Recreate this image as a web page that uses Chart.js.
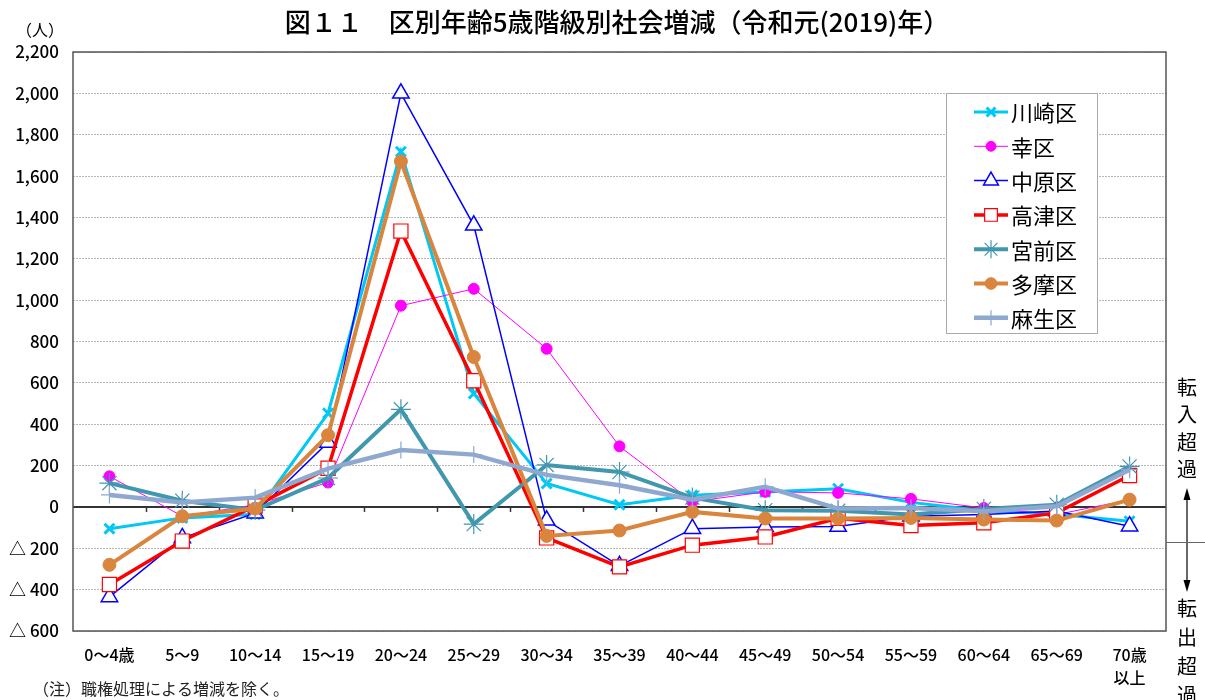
<!DOCTYPE html>
<html>
<head>
<meta charset="utf-8">
<script src="https://cdn.jsdelivr.net/npm/chart.js@4"></script>
<style>
  body { margin: 0; background: #fff; }
</style>
</head>
<body>
<canvas id="myChart" width="1205" height="700"></canvas>
<script>
var ageLabels = ['0～4歳', '5～9', '10～14', '15～19', '20～24', '25～29', '30～34', '35～39',
  '40～44', '45～49', '50～54', '55～59', '60～64', '65～69', ['70歳', '以上']];

var kawasaki = [-105, -53, -35, 453, 1718, 548, 113, 11, 56, 72, 88, 22, -18, -35, -69];
var saiwai   = [148, -45, 10, 118, 973, 1055, 765, 293, 25, 73, 68, 39, -5, -37, 35];
var nakahara = [-435, -150, -30, 312, 2000, 1362, -65, -285, -105, -97, -95, -45, -37, -20, -93];
var takatsu  = [-375, -165, 5, 187, 1334, 610, -150, -290, -185, -145, -55, -90, -77, -29, 152];
var miyamae  = [115, 30, -15, 140, 472, -83, 203, 169, 45, -16, -19, -37, -10, 11, 196];
var tama     = [-280, -45, -8, 347, 1671, 725, -140, -114, -24, -56, -56, -53, -61, -66, 35];
var asao     = [58, 22, 45, 185, 275, 253, 155, 105, 35, 97, -8, -5, -21, 3, 180];

var yMin = -600, yMax = 2200, yStep = 200;

var FONT = "'Noto Sans CJK JP', 'Noto Sans', sans-serif";

function series(label, data, color, width, style, radius, pbw, fill) {
  return {
    label: label,
    data: data,
    borderColor: color,
    borderWidth: width,
    pointStyle: style,
    pointRadius: radius,
    pointHoverRadius: radius,
    pointBorderColor: color,
    pointBorderWidth: pbw,
    pointBackgroundColor: fill,
    tension: 0,
    fill: false
  };
}

var datasets = [
  series('川崎区', kawasaki, '#00C8F5', 3, 'crossRot', 7, 3, '#00C8F5'),
  series('幸区', saiwai, '#FF00FF', 1, 'circle', 5.5, 1, '#FF00FF'),
  series('中原区', nakahara, '#0000FF', 1.5, 'triangle', 9.5, 1.5, '#FFFFFF'),
  series('高津区', takatsu, '#FF0000', 3.5, 'rect', 10, 1.2, '#FFFFFF'),
  series('宮前区', miyamae, '#4197AE', 4, 'star', 10, 1.2, '#4197AE'),
  series('多摩区', tama, '#D9853E', 4, 'circle', 6.5, 1, '#D9853E'),
  series('麻生区', asao, '#8FA8CF', 4.5, 'cross', 8.5, 1.2, '#8FA8CF')
];
// Excel draws later series on top
datasets.forEach(function (d, i) { d.order = datasets.length - 1 - i; });

var deco = {
  id: 'deco',
  beforeDatasetsDraw: function (chart) {
    var ctx = chart.ctx, a = chart.chartArea;
    var x = chart.scales.x, y = chart.scales.y;
    var y0 = y.getPixelForValue(0);
    ctx.save();
    ctx.strokeStyle = '#333';
    ctx.lineWidth = 2;
    ctx.beginPath();
    ctx.moveTo(a.left, y0); ctx.lineTo(a.right, y0);
    ctx.stroke();
    ctx.lineWidth = 1.5;
    for (var i = 1; i < ageLabels.length; i++) {
      var px = Math.round(x.getPixelForValue(i - 0.5)) + 0.5;
      ctx.beginPath();
      ctx.moveTo(px, y0); ctx.lineTo(px, y0 + 5);
      ctx.stroke();
    }
    ctx.restore();
  },
  afterDraw: function (chart) {
    var ctx = chart.ctx, a = chart.chartArea;
    ctx.save();
    // frame
    ctx.strokeStyle = '#555';
    ctx.lineWidth = 1.5;
    ctx.strokeRect(a.left, a.top, a.right - a.left, a.bottom - a.top);

    // title
    ctx.fillStyle = '#000';
    ctx.textAlign = 'center';
    ctx.textBaseline = 'middle';
    ctx.font = '500 26px ' + FONT;
    ctx.fillText('図１１　区別年齢5歳階級別社会増減（令和元(2019)年）', 617, 22);

    ctx.font = '16px ' + FONT;
    ctx.fillText('（人）', 40, 30);

    // right side annotation
    ctx.font = '20px ' + FONT;
    ['転', '入', '超', '過'].forEach(function (c, i) { ctx.fillText(c, 1187, 387 + i * 27.5); });
    ['転', '出', '超', '過'].forEach(function (c, i) { ctx.fillText(c, 1187, 608 + i * 29); });
    ctx.strokeStyle = '#000';
    ctx.lineWidth = 1.2;
    ctx.beginPath();
    ctx.moveTo(1187, 492); ctx.lineTo(1187, 588);
    ctx.stroke();
    ctx.beginPath();
    ctx.moveTo(1187, 488); ctx.lineTo(1183.5, 500); ctx.lineTo(1190.5, 500); ctx.closePath();
    ctx.moveTo(1187, 592); ctx.lineTo(1183.5, 580); ctx.lineTo(1190.5, 580); ctx.closePath();
    ctx.fillStyle = '#000';
    ctx.fill();
    ctx.strokeStyle = '#666';
    ctx.beginPath();
    ctx.moveTo(a.right, 542.5); ctx.lineTo(1205, 542.5);
    ctx.stroke();

    // note
    ctx.fillStyle = '#222';
    ctx.textAlign = 'left';
    ctx.font = '16px ' + FONT;
    ctx.fillText('（注）職権処理による増減を除く。', 33, 689);

    // legend
    ctx.fillStyle = '#fff';
    ctx.fillRect(946, 93, 151, 240);
    ctx.strokeStyle = '#aaa';
    ctx.lineWidth = 1;
    ctx.strokeRect(946.5, 93.5, 151, 240);
    chart.data.datasets.forEach(function (d, i) {
      var ly = 112 + i * 34.3;
      ctx.strokeStyle = d.borderColor;
      ctx.lineWidth = d.borderWidth;
      ctx.beginPath();
      ctx.moveTo(974, ly); ctx.lineTo(1008, ly);
      ctx.stroke();
      ctx.strokeStyle = d.pointBorderColor;
      ctx.fillStyle = d.pointBackgroundColor;
      ctx.lineWidth = d.pointBorderWidth;
      Chart.helpers.drawPoint(ctx, {
        pointStyle: d.pointStyle,
        radius: d.pointRadius * 0.9,
        borderWidth: d.pointBorderWidth,
        rotation: 0
      }, 991, ly);
      ctx.fillStyle = '#000';
      ctx.font = '22px ' + FONT;
      ctx.textBaseline = 'middle';
      ctx.fillText(d.label, 1011, ly + 1);
    });
    ctx.restore();
  }
};

new Chart(document.getElementById('myChart'), {
  type: 'line',
  data: { labels: ageLabels, datasets: datasets },
  plugins: [deco],
  options: {
    responsive: false,
    animation: false,
    layout: { padding: { top: 52, right: 39, left: 0, bottom: 0 } },
    plugins: {
      legend: { display: false },
      title: { display: false },
      tooltip: { enabled: false }
    },
    scales: {
      x: {
        offset: true,
        grid: { display: false, drawTicks: false },
        border: { display: false },
        ticks: {
          color: '#000',
          font: { family: FONT, size: 16, weight: '500', lineHeight: 1.4 },
          padding: 13,
          maxRotation: 0,
          autoSkip: false
        },
        afterFit: function (s) { s.height = 69; }
      },
      y: {
        min: yMin,
        max: yMax,
        grid: { color: '#b8b8b8', lineWidth: 1, drawTicks: false },
        border: { display: false, dash: [2, 1] },
        ticks: {
          stepSize: yStep,
          color: '#000',
          padding: 14,
          font: { family: FONT, size: 17, weight: '500' },
          callback: function (v) {
            if (v < 0) return '△ ' + Math.abs(v).toLocaleString('en-US');
            return v.toLocaleString('en-US');
          }
        },
        afterFit: function (s) { s.width = 73; }
      }
    }
  }
});
</script>
</body>
</html>
